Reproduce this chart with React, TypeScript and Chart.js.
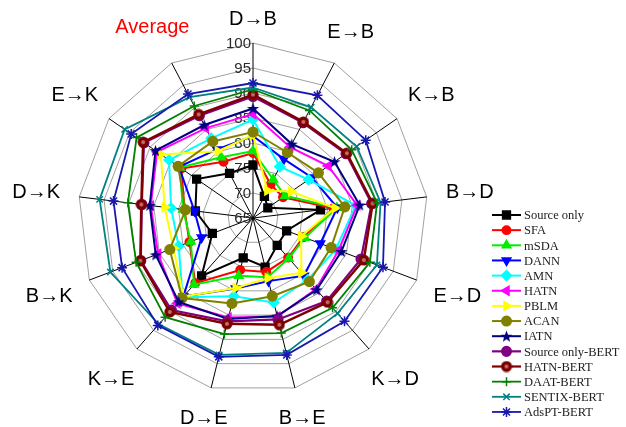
import React, { useEffect, useRef } from 'react';
import { Chart, registerables } from 'chart.js';
import { drawPoint } from 'chart.js/helpers';

Chart.register(...registerables);

const axisLabels = ['D→B', 'E→B', 'K→B', 'B→D', 'E→D', 'K→D', 'B→E', 'D→E', 'K→E', 'B→K', 'D→K', 'E→K', 'Average'];
const tickValues = [65, 70, 75, 80, 85, 90, 95, 100];

const sourceOnly = [75.6, 69.9, 68.6, 78.6, 72.2, 72.3, 75.1, 73.2, 80.5, 73.7, 76.6, 78.7, 75.1];
const sfa = [78.0, 72.6, 72.3, 81.2, 75.8, 75.6, 76.1, 75.7, 82.4, 78.6, 78.8, 82.4, 77.7];
const msda = [78.4, 73.7, 72.8, 81.9, 76.1, 75.8, 77.2, 76.9, 82.8, 78.3, 79.1, 82.8, 78.7];
const dann = [81.4, 78.3, 79.3, 82.0, 79.4, 80.4, 78.0, 79.5, 86.0, 76.0, 76.8, 83.0, 80.5];
const amn = [84.7, 76.6, 78.5, 85.7, 82.7, 81.5, 82.4, 81.1, 86.2, 80.9, 81.5, 85.4, 83.0];
const hatn = [85.8, 81.0, 83.3, 86.0, 83.3, 84.0, 85.3, 85.5, 87.8, 85.3, 85.6, 88.3, 85.3];
const pblm = [81.6, 71.2, 74.3, 81.5, 75.3, 79.6, 77.4, 79.4, 86.0, 82.0, 82.8, 87.4, 80.1];
const acan = [82.2, 79.8, 80.9, 83.5, 81.7, 82.0, 81.1, 82.6, 86.4, 82.8, 78.6, 83.2, 82.3];
const iatn = [86.9, 81.7, 84.8, 86.5, 83.9, 84.2, 85.2, 85.8, 87.4, 85.8, 85.8, 88.7, 86.0];
const sourceOnlyBert = [89.3, 86.5, 87.6, 88.9, 88.1, 87.2, 85.9, 86.3, 89.6, 89.0, 87.4, 91.5, 88.1];
const hatnBert = [89.7, 86.7, 87.8, 89.1, 88.7, 87.5, 87.0, 86.8, 90.1, 89.1, 87.5, 91.7, 88.4];
const daatBert = [90.7, 89.3, 89.0, 90.0, 90.0, 89.0, 88.7, 88.9, 91.5, 90.0, 90.2, 93.3, 90.3];
const sentixBert = [91.1, 90.0, 90.2, 90.7, 91.5, 90.5, 92.8, 93.2, 93.4, 95.5, 95.9, 96.2, 92.3];
const adsptBert = [92.0, 92.7, 92.4, 91.6, 92.8, 92.6, 93.2, 93.6, 93.7, 93.0, 93.1, 94.6, 93.0];

const seriesNames = ['Source only', 'SFA', 'mSDA', 'DANN', 'AMN', 'HATN', 'PBLM', 'ACAN', 'IATN',
  'Source only-BERT', 'HATN-BERT', 'DAAT-BERT', 'SENTIX-BERT', 'AdsPT-BERT'];
const seriesData = [sourceOnly, sfa, msda, dann, amn, hatn, pblm, acan, iatn,
  sourceOnlyBert, hatnBert, daatBert, sentixBert, adsptBert];

function makeStar(color: string) {
  const c = document.createElement('canvas');
  c.width = 13; c.height = 13;
  const ctx = c.getContext('2d')!;
  ctx.fillStyle = color;
  ctx.beginPath();
  for (let i = 0; i < 10; i++) {
    const r = i % 2 === 0 ? 6.3 : 2.6;
    const a = -Math.PI / 2 + (i * Math.PI) / 5;
    const x = 6.5 + r * Math.cos(a);
    const y = 7 + r * Math.sin(a);
    if (i === 0) ctx.moveTo(x, y); else ctx.lineTo(x, y);
  }
  ctx.closePath();
  ctx.fill();
  return c;
}

function makeBall(outer: string, inner: string) {
  const c = document.createElement('canvas');
  c.width = 12; c.height = 12;
  const ctx = c.getContext('2d')!;
  ctx.fillStyle = outer;
  ctx.beginPath();
  ctx.arc(6, 6, 5.5, 0, Math.PI * 2);
  ctx.fill();
  ctx.fillStyle = inner;
  ctx.beginPath();
  ctx.arc(6, 6, 2, 0, Math.PI * 2);
  ctx.fill();
  return c;
}

export default function App() {
  const ref = useRef<HTMLCanvasElement>(null);

  useEffect(() => {
    document.body.style.margin = '0';
    const canvas = ref.current!;
    const starImg = makeStar('#000080');
    const ballImg = makeBall('#7a0000', '#c87070');

    const styles: any[] = [
      { color: '#000000', pointStyle: 'rect', radius: 5.5, rotation: 0, width: 2 },
      { color: '#ff0000', pointStyle: 'circle', radius: 4.2, rotation: 0, width: 2 },
      { color: '#00ee00', pointStyle: 'triangle', radius: 5, rotation: 0, width: 2 },
      { color: '#0000ff', pointStyle: 'triangle', radius: 5, rotation: 180, width: 2 },
      { color: '#00ffff', pointStyle: 'rectRot', radius: 5, rotation: 0, width: 2 },
      { color: '#ff00ff', pointStyle: 'triangle', radius: 5, rotation: 270, width: 2 },
      { color: '#ffff00', pointStyle: 'triangle', radius: 5, rotation: 90, width: 2 },
      { color: '#808000', pointStyle: 'circle', radius: 4.8, rotation: 0, width: 2 },
      { color: '#000080', pointStyle: starImg, radius: 6, rotation: 0, width: 2 },
      { color: '#800080', pointStyle: 'circle', radius: 4.8, rotation: 0, width: 2.2 },
      { color: '#800000', pointStyle: ballImg, radius: 6, rotation: 0, width: 2.5 },
      { color: '#008000', pointStyle: 'cross', radius: 4.5, rotation: 0, width: 1.8 },
      { color: '#008080', pointStyle: 'crossRot', radius: 4.5, rotation: 0, width: 1.8 },
      { color: '#1818b0', pointStyle: 'star', radius: 5, rotation: 0, width: 1.8 },
    ];

    const datasets = seriesNames.map((name, i) => ({
      label: name,
      data: seriesData[i],
      borderColor: styles[i].color,
      backgroundColor: styles[i].color,
      pointBackgroundColor: styles[i].color,
      pointBorderColor: styles[i].color,
      pointStyle: styles[i].pointStyle,
      pointRadius: styles[i].radius,
      pointRotation: styles[i].rotation,
      pointBorderWidth: 1.5,
      borderWidth: styles[i].width,
      fill: false,
      tension: 0,
      order: -i,
    }));

    const textPlugin = {
      id: 'radarText',
      beforeDatasetsDraw(chart: any) {
        const scale = chart.scales.r;
        const ctx = chart.ctx;
        ctx.save();
        ctx.font = '15px "Liberation Sans", Arial, sans-serif';
        ctx.fillStyle = '#2a2a2a';
        ctx.textAlign = 'right';
        ctx.textBaseline = 'middle';
        tickValues.forEach((v) => {
          const p = scale.getPointPositionForValue(0, v);
          ctx.fillText(String(v), p.x - 2, p.y + 1);
        });
        ctx.restore();
      },
      afterDraw(chart: any) {
        const scale = chart.scales.r;
        const ctx = chart.ctx;
        ctx.save();
        ctx.font = '20px "Liberation Sans", Arial, sans-serif';
        ctx.textAlign = 'center';
        ctx.textBaseline = 'middle';
        axisLabels.forEach((lab, i) => {
          const w = ctx.measureText(lab).width;
          const base = scale.getPointPosition(i, 10);
          const sx = Math.cos(base.angle);
          const sy = Math.sin(base.angle);
          const d = scale.drawingArea + 19 + (w / 2) * Math.abs(sx) + 6 * Math.abs(sy);
          const p = scale.getPointPosition(i, d);
          ctx.fillStyle = lab === 'Average' ? '#ff0000' : '#000000';
          ctx.fillText(lab, p.x, p.y + 1);
        });

        // legend
        const x0 = 492, x1 = 521, y0 = 215, step = 15.15;
        ctx.font = '12.5px "Liberation Serif", "Times New Roman", serif';
        ctx.textAlign = 'left';
        ctx.textBaseline = 'middle';
        chart.data.datasets.forEach((ds: any, i: number) => {
          const y = y0 + i * step;
          ctx.strokeStyle = ds.borderColor;
          ctx.lineWidth = Math.min(ds.borderWidth, 2.2);
          ctx.beginPath();
          ctx.moveTo(x0, y);
          ctx.lineTo(x1, y);
          ctx.stroke();
          ctx.fillStyle = ds.pointBackgroundColor;
          ctx.strokeStyle = ds.pointBorderColor;
          ctx.lineWidth = 1.5;
          drawPoint(ctx, { pointStyle: ds.pointStyle, rotation: ds.pointRotation, radius: ds.pointRadius, borderWidth: 1.5 } as any, (x0 + x1) / 2, y);
          ctx.fillStyle = '#222222';
          ctx.fillText(ds.label, 524, y + 1);
        });
        ctx.restore();
      },
    };

    const chart = new Chart(canvas, {
      type: 'radar',
      data: { labels: axisLabels, datasets: datasets as any },
      options: {
        responsive: false,
        animation: false,
        layout: { padding: { left: 78, top: 43, right: 198, bottom: 34 } },
        plugins: {
          legend: { display: false },
          tooltip: { enabled: false },
          title: { display: false },
        },
        scales: {
          r: {
            min: 65,
            max: 100,
            ticks: { display: false, stepSize: 5 },
            pointLabels: { display: false },
            grid: { color: '#a0a0a0', lineWidth: 1 },
            angleLines: { color: '#000000', lineWidth: 1 },
          },
        },
      } as any,
      plugins: [textPlugin],
    });
    return () => chart.destroy();
  }, []);

  return (
    <div style={{ width: 626, height: 427, background: '#ffffff' }}>
      <canvas ref={ref} width={626} height={427} style={{ display: 'block' }} />
    </div>
  );
}
